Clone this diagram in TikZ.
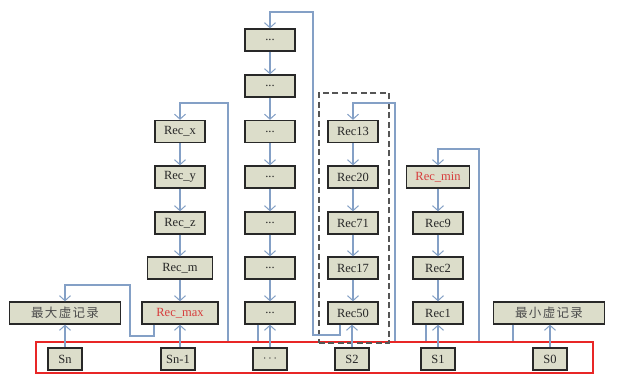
\documentclass[tikz,border=0pt]{standalone}
\usepackage{fontspec}
\setmainfont{Liberation Serif}
\newfontfamily\cjk{Noto Sans CJK SC}
\usetikzlibrary{arrows.meta}
\definecolor{boxfill}{RGB}{220,221,202}
\definecolor{boxline}{RGB}{40,40,40}
\definecolor{linkc}{RGB}{132,160,198}
\definecolor{redc}{RGB}{232,38,38}
\definecolor{redtext}{RGB}{215,60,60}
\definecolor{dashc}{RGB}{85,85,85}
\tikzset{
  rec/.style={draw=boxline, line width=1.3pt, fill=boxfill, minimum width=50pt, minimum height=22pt, inner sep=0pt, font=\fontsize{12.5}{14}\selectfont, text=black!85},
  slot/.style={rec, minimum width=34pt},
  link/.style={draw=linkc, line width=1.5pt},
  alink/.style={link, -{Straight Barb[length=5pt,width=11pt,line width=1pt]}},
}
\begin{document}
\begin{tikzpicture}[x=1pt,y=-1pt]
\useasboundingbox (0,0) rectangle (617,390);
\fill[white] (0,0) rectangle (617,390);

% slot array frame
\node[draw=redc, line width=2.2pt, minimum width=557pt, minimum height=31pt, inner sep=0pt, anchor=north west] (arr) at (35,341) {};
% dashed group
\node[draw=dashc, dash pattern=on 6pt off 3.5pt, line width=1.8pt, minimum width=70pt, minimum height=250pt, inner sep=0pt, anchor=north west] (grp) at (318,92) {};

% slots
\node[slot] (sn)  at (65,359)  {Sn};
\node[slot] (sn1) at (178,359) {Sn-1};
\node[slot] (sd)  at (270,359) {$\cdots$};
\node[slot] (s2)  at (352,359) {S2};
\node[slot] (s1)  at (438,359) {S1};
\node[slot] (s0)  at (550,359) {S0};

% virtual records
\node[rec, minimum width=111pt, font=\cjk\fontsize{12.5}{14}\selectfont, text=black!70] (vmax) at (65,313) {最\hspace{1.3pt}大\hspace{1.3pt}虚\hspace{1.3pt}记\hspace{1.3pt}录};
\node[rec, minimum width=111pt, font=\cjk\fontsize{12.5}{14}\selectfont, text=black!70] (vmin) at (549,313) {最\hspace{1.3pt}小\hspace{1.3pt}虚\hspace{1.3pt}记\hspace{1.3pt}录};

% column Sn-1
\node[rec] (rx) at (180,131.5) {Rec\_x};
\node[rec] (ry) at (180,177) {Rec\_y};
\node[rec] (rz) at (180,223) {Rec\_z};
\node[rec, minimum width=65pt] (rm) at (180,268) {Rec\_m};
\node[rec, minimum width=76pt, text=redtext] (rmax) at (180,313) {Rec\_max};

% column ...
\node[rec] (d1) at (270,40) {...};
\node[rec] (d2) at (270,86) {...};
\node[rec] (d3) at (270,131.5) {...};
\node[rec] (d4) at (270,177) {...};
\node[rec] (d5) at (270,223) {...};
\node[rec] (d6) at (270,268) {...};
\node[rec] (d7) at (270,313) {...};

% column S2
\node[rec] (r13) at (353,131.5) {Rec13};
\node[rec] (r20) at (353,177) {Rec20};
\node[rec] (r71) at (353,223) {Rec71};
\node[rec] (r17) at (353,268) {Rec17};
\node[rec] (r50) at (353,313) {Rec50};

% column S1
\node[rec, minimum width=63pt, text=redtext] (rmin) at (438,177) {Rec\_min};
\node[rec] (r9) at (438,223) {Rec9};
\node[rec] (r2) at (438,268) {Rec2};
\node[rec] (r1) at (438,313) {Rec1};

% slot pointers
\draw[alink] (sn.north) -- (vmax.south);
\draw[alink] (sn1.north -| rmax.south) -- (rmax.south);
\draw[alink] (sd.north) -- (d7.south);
\draw[alink] (s2.north) -- (r50.south -| s2.north);
\draw[alink] (s1.north) -- (r1.south);
\draw[alink] (s0.north) -- (vmin.south -| s0.north);

% chains
\draw[alink] (rx) -- (ry);
\draw[alink] (ry) -- (rz);
\draw[alink] (rz) -- (rm);
\draw[alink] (rm) -- (rmax);
\draw[alink] (d1) -- (d2);
\draw[alink] (d2) -- (d3);
\draw[alink] (d3) -- (d4);
\draw[alink] (d4) -- (d5);
\draw[alink] (d5) -- (d6);
\draw[alink] (d6) -- (d7);
\draw[alink] (r13) -- (r20);
\draw[alink] (r20) -- (r71);
\draw[alink] (r71) -- (r17);
\draw[alink] (r17) -- (r50);
\draw[alink] (rmin) -- (r9);
\draw[alink] (r9) -- (r2);
\draw[alink] (r2) -- (r1);

% loops
\draw[alink] (rmax.south -| 154,0) -- (154,336) -- (130,336) -- (130,285) -| (vmax.north);
\draw[alink] (arr.north -| 228,0) -- (228,103) -| (rx.north);
\draw[link] (d7.south -| 258,0) -- (arr.north -| 258,0);
\draw[alink] (r50.south -| 340,0) -- (340,335) -- (313,335) -- (313,12) -| (d1.north);
\draw[alink] (arr.north -| 395,0) -- (395,103) -| (r13.north);
\draw[link] (r1.south -| 426,0) -- (arr.north -| 426,0);
\draw[alink] (arr.north -| 479,0) -- (479,149) -| (rmin.north);
\draw[link] (vmin.south -| 513,0) -- (arr.north -| 513,0);
\end{tikzpicture}
\end{document}
